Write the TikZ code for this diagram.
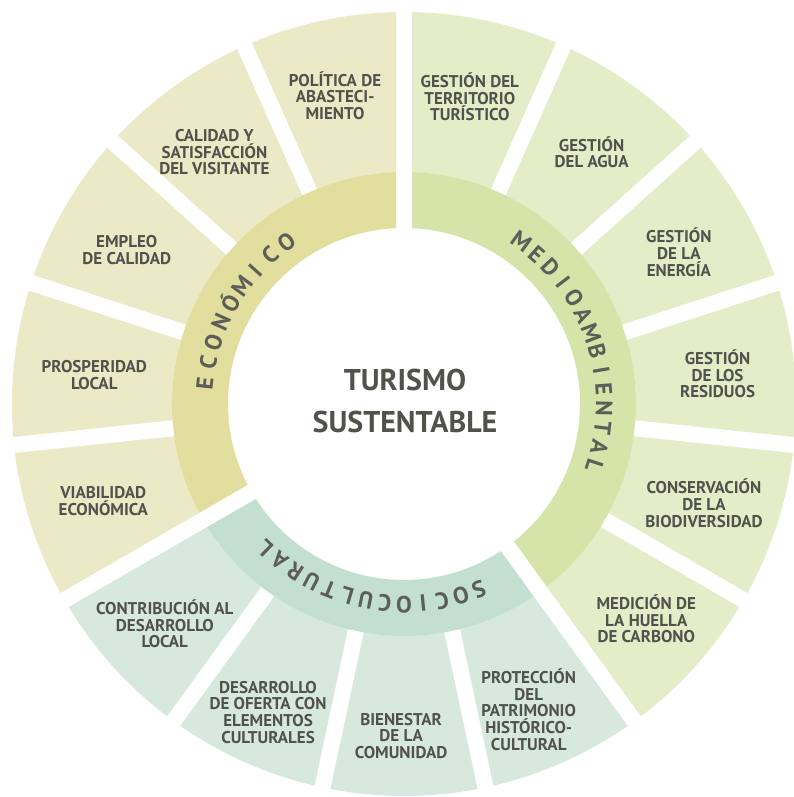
\documentclass[tikz,border=0pt]{standalone}
\usepackage{fontspec}
\setmainfont{PT Sans}
\usepackage{xcolor}
\usepackage{tikz}

\definecolor{ecoout}{HTML}{ECE9C6}
\definecolor{ecoin}{HTML}{E2DE9E}
\definecolor{medout}{HTML}{E4ECC8}
\definecolor{medin}{HTML}{D6E4A9}
\definecolor{socout}{HTML}{D7E9DE}
\definecolor{socin}{HTML}{C2DFD0}
\definecolor{txtgrey}{HTML}{52524D}
\definecolor{ringgrey}{HTML}{5E5E59}

\tikzset{
    seglabel/.style = {align=center, text=txtgrey, inner sep=0pt, font=\bfseries\fontsize{17}{16.6}\selectfont},
    ringletter/.style = {text=ringgrey, inner sep=0pt, text height=16pt, text depth=0pt, font=\bfseries\fontsize{23.5}{23.5}\selectfont},
    maintitle/.style = {align=center, text=txtgrey, inner sep=0pt, font=\bfseries\fontsize{30}{42}\selectfont},
    gap/.style = {white, line width=16pt},
}

\begin{document}
\begin{tikzpicture}[x=1pt, y=1pt]
  \useasboundingbox (-404,-393) rectangle (390,404);

  \fill[ecoout] (90:232) arc[start angle=90, end angle=210, radius=232] -- (210:392) arc[start angle=210, end angle=90, radius=392] -- cycle;
  \fill[medout] (-54:232) arc[start angle=-54, end angle=90, radius=232] -- (90:392) arc[start angle=90, end angle=-54, radius=392] -- cycle;
  \fill[socout] (210:232) arc[start angle=210, end angle=306, radius=232] -- (306:392) arc[start angle=306, end angle=210, radius=392] -- cycle;

  \fill[ecoin] (90:176) arc[start angle=90, end angle=210, radius=176] -- (210:232) arc[start angle=210, end angle=90, radius=232] -- cycle;
  \fill[medin] (-54:176) arc[start angle=-54, end angle=90, radius=176] -- (90:232) arc[start angle=90, end angle=-54, radius=232] -- cycle;
  \fill[socin] (210:176) arc[start angle=210, end angle=306, radius=176] -- (306:232) arc[start angle=306, end angle=210, radius=232] -- cycle;

  \foreach \a in {114,138,162,186,66,42,18,-6,-30,-78,-102,-126}
    \draw[gap] (\a:232) -- (\a:400);
  \foreach \a in {90,210,-54}
    \draw[gap] (\a:170) -- (\a:400);

  \node[maintitle] (centre) at (1,3) {TURISMO\\SUSTENTABLE};

  \foreach \ch [count=\i from 0] in {E,C,O,N,Ó,M,I,C,O}
    \node[ringletter, rotate={84-6*\i}] (eco\i) at ({174-6*\i}:200) {\ch};
  \foreach \ch [count=\i from 0] in {M,E,D,I,O,A,M,B,I,E,N,T,A,L}
    \node[ringletter, rotate={-35.9-5.55*\i}] (med\i) at ({54.1-5.55*\i}:200) {\ch};
  \foreach \ch [count=\i from 0] in {S,O,C,I,O,C,U,L,T,U,R,A,L}
    \node[ringletter, rotate={-158-5.5*\i}] (soc\i) at ({-68-5.5*\i}:200) {\ch};

  \node[seglabel] (politica) at (102.6:316) {POLÍTICA DE\\ABASTECI-\\MIENTO};
  \node[seglabel] (calidad) at (127:315) {CALIDAD Y\\SATISFACCIÓN\\DEL VISITANTE};
  \node[seglabel] (empleo) at (151:317) {EMPLEO\\DE CALIDAD};
  \node[seglabel] (prosperidad) at (174.7:311) {PROSPERIDAD\\LOCAL};
  \node[seglabel] (viabilidad) at (197.9:316) {VIABILIDAD\\ECONÓMICA};
  \node[seglabel] (contribucion) at (222.6:325) {CONTRIBUCIÓN AL\\DESARROLLO\\LOCAL};
  \node[seglabel] (oferta) at (246.2:337) {DESARROLLO\\DE OFERTA CON\\ELEMENTOS\\CULTURALES};
  \node[seglabel] (bienestar) at (269.5:332) {BIENESTAR\\DE LA\\COMUNIDAD};
  \node[seglabel] (patrimonio) at (-67.8:330) {PROTECCIÓN\\DEL\\PATRIMONIO\\HISTÓRICO-\\CULTURAL};
  \node[seglabel] (huella) at (-41.6:324) {MEDICIÓN DE\\LA HUELLA\\DE CARBONO};
  \node[seglabel] (biodiversidad) at (-18.3:316) {CONSERVACIÓN\\DE LA\\BIODIVERSIDAD};
  \node[seglabel] (residuos) at (5.5:315) {GESTIÓN\\DE LOS\\RESIDUOS};
  \node[seglabel] (energia) at (28.9:314) {GESTIÓN\\DE LA\\ENERGÍA};
  \node[seglabel] (agua) at (53.3:314) {GESTIÓN\\DEL AGUA};
  \node[seglabel] (territorio) at (77.9:314) {GESTIÓN DEL\\TERRITORIO\\TURÍSTICO};
\end{tikzpicture}
\end{document}
